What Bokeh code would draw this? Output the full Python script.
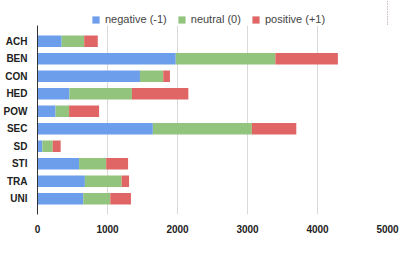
from bokeh.plotting import figure
from bokeh.layouts import column
from bokeh.models import FactorRange, Range1d, Legend, LegendItem, FixedTicker
from bokeh.embed import file_html
from bokeh.resources import INLINE

categories = ["ACH", "BEN", "CON", "HED", "POW", "SEC", "SD", "STI", "TRA", "UNI"]
negative = [345, 1975, 1464, 456, 258, 1648, 69, 594, 677, 653]
neutral = [322, 1423, 332, 893, 193, 1414, 148, 387, 525, 387]
positive = [194, 893, 96, 806, 429, 635, 114, 313, 106, 295]
series = ["negative (-1)", "neutral (0)", "positive (+1)"]
colors = ["#6d9eeb", "#93c47d", "#e06666"]
x_ticks = [0, 1000, 2000, 3000, 4000, 5000]

data = dict(cat=categories, neg=negative, neu=neutral, pos=positive)

# legend strip (its bars fall outside its visible range; only the legend shows)
lg = figure(width=399, height=25, x_range=Range1d(-2, -1), y_range=FactorRange(factors=categories),
            x_axis_location=None, y_axis_location=None,
            output_backend="svg", toolbar_location=None,
            min_border_left=0, min_border_right=0, min_border_top=0, min_border_bottom=0)
lg.grid.visible = False
lg.outline_line_color = None
lrs = lg.hbar_stack(["neg", "neu", "pos"], y="cat", height=0.66, color=colors,
                    line_color=None, source=data)
legend = Legend(items=[LegendItem(label=s, renderers=[r]) for s, r in zip(series, lrs)],
                orientation="horizontal", location=(54, 0),
                glyph_width=9, glyph_height=9, label_standoff=5, spacing=10,
                padding=0, margin=0, label_height=9,
                label_text_font="Liberation Sans", label_text_font_size="11px",
                label_text_color="#444444", border_line_color=None,
                background_fill_alpha=0)
lg.add_layout(legend, "center")

yr = FactorRange(factors=categories[::-1], range_padding=0.4, range_padding_units="absolute")
p = figure(width=399, height=210, y_range=yr, x_range=Range1d(0, 5000),
           output_backend="svg", toolbar_location=None,
           min_border_left=32, min_border_right=12, min_border_top=0, min_border_bottom=16)

p.hbar_stack(["neg", "neu", "pos"], y="cat", height=0.66, color=colors,
             line_color=None, source=data)

p.outline_line_color = None
p.ygrid.grid_line_color = None
p.xgrid.grid_line_color = "#d9d9d9"
p.xgrid.ticker = FixedTicker(ticks=x_ticks)
p.xaxis.ticker = FixedTicker(ticks=x_ticks)
p.xaxis.axis_line_color = None
p.xaxis.major_tick_line_color = None
p.xaxis.minor_tick_line_color = None
p.xaxis.major_label_standoff = 4
p.xaxis.major_label_text_font = "Liberation Sans"
p.xaxis.major_label_text_font_size = "10px"
p.xaxis.major_label_text_font_style = "bold"
p.xaxis.major_label_text_color = "#222222"

p.yaxis.axis_line_color = "#333333"
p.yaxis.major_tick_line_color = None
p.yaxis.minor_tick_line_color = None
p.yaxis.major_label_standoff = 4
p.yaxis.major_label_text_font = "Liberation Sans"
p.yaxis.major_label_text_font_size = "10px"
p.yaxis.major_label_text_font_style = "bold"
p.yaxis.major_label_text_color = "#222222"

layout = column(lg, p, spacing=0)
open("out.html", "w").write(file_html(layout, INLINE))
